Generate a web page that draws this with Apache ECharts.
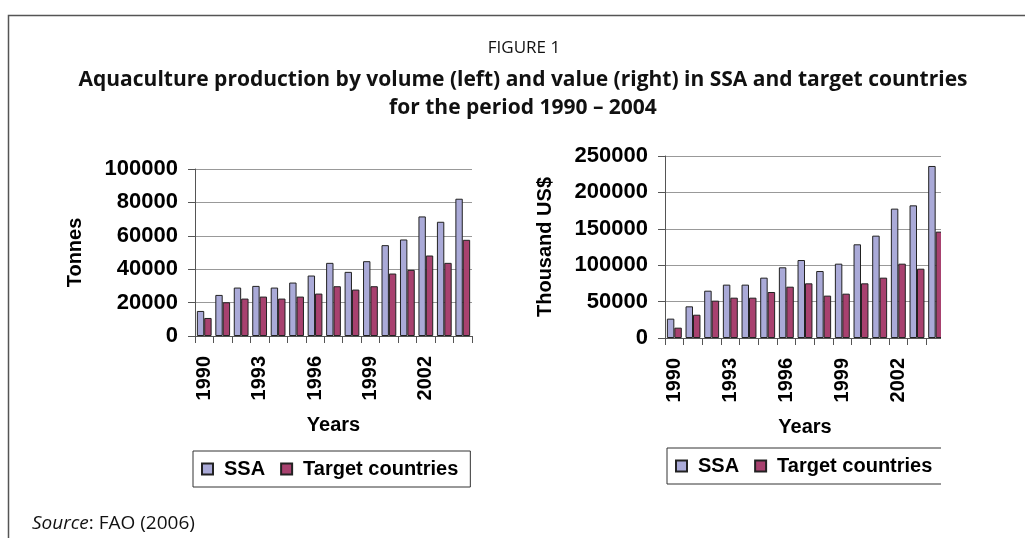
<!DOCTYPE html>
<html>
<head>
<meta charset="utf-8">
<title>Aquaculture production SSA</title>
<script src="https://cdn.jsdelivr.net/npm/echarts@6/dist/echarts.min.js"></script>
<style>
  html, body { margin: 0; padding: 0; background: #fff; }
  #chart { width: 1025px; height: 538px; }
</style>
</head>
<body>
<div id="chart"></div>
<script>
// years on the category axis
const years = ["1990", "1991", "1992", "1993", "1994", "1995", "1996", "1997",
  "1998", "1999", "2000", "2001", "2002", "2003", "2004"];

// volume, tonnes (left panel)
const volumeSSA = [15000, 24600, 29000, 30000, 29000, 32000, 36200, 43800,
  38400, 44800, 54400, 57800, 71600, 68400, 82200];
const volumeTarget = [10800, 20200, 22400, 23600, 22400, 23600, 25400, 29800,
  27800, 29800, 37400, 39600, 48200, 43800, 57600];

// value, thousand US$ (right panel)
const valueSSA = [26600, 43500, 65000, 73300, 73300, 82900, 97100, 107100,
  92000, 102100, 128700, 140600, 177700, 182200, 236300];
const valueTarget = [14200, 32000, 51300, 55400, 55400, 63200, 70500, 75100,
  58200, 60900, 75100, 82900, 102100, 95200, 146100];

const seriesNames = ["SSA", "Target countries"];

const FONT = "'Liberation Sans', Arial, sans-serif";
const TITLE_FONT = "'Open Sans', sans-serif";
const SSA_COLOR = "#aaaad8";
const TARGET_COLOR = "#a8416f";

function xAxisFor(gridIndex) {
  return {
    type: "category",
    gridIndex: gridIndex,
    data: years,
    name: "Years",
    nameLocation: "middle",
    nameGap: 79,
    nameTextStyle: { fontFamily: FONT, fontWeight: "bold", fontSize: 20, color: "#000" },
    axisLine: { lineStyle: { color: "#555", width: 1 } },
    axisTick: { show: true, interval: 0, length: 7, lineStyle: { color: "#555" } },
    axisLabel: {
      interval: 2,
      rotate: 90,
      margin: 20,
      fontFamily: FONT,
      fontWeight: "bold",
      fontSize: 20,
      color: "#000",
    },
  };
}

function yAxisFor(gridIndex, name, max, interval, nameGap) {
  return {
    type: "value",
    gridIndex: gridIndex,
    min: 0,
    max: max,
    interval: interval,
    name: name,
    nameLocation: "middle",
    nameGap: nameGap,
    nameTextStyle: { fontFamily: FONT, fontWeight: "bold", fontSize: 20, color: "#000" },
    axisLine: { show: true, lineStyle: { color: "#555", width: 1 } },
    axisTick: { show: true, length: 7, lineStyle: { color: "#555" } },
    splitLine: { lineStyle: { color: "#999", width: 1 } },
    axisLabel: {
      margin: 17,
      fontFamily: FONT,
      fontWeight: "bold",
      fontSize: 22,
      color: "#000",
      formatter: (value) => String(value),
    },
  };
}

function barSeries(name, color, data, axisIndex) {
  return {
    name: name,
    type: "bar",
    xAxisIndex: axisIndex,
    yAxisIndex: axisIndex,
    data: data,
    barGap: "0%",
    barCategoryGap: "20%",
    itemStyle: { color: color, borderColor: "#222", borderWidth: 1 },
    emphasis: { disabled: true },
  };
}

function legendAt(left, top) {
  return {
    data: seriesNames,
    left: left,
    top: top,
    orient: "horizontal",
    icon: "rect",
    itemWidth: 11,
    itemHeight: 11,
    itemGap: 15,
    padding: [8, 12, 8, 8],
    borderColor: "#333",
    borderWidth: 1,
    backgroundColor: "#fff",
    textStyle: {
      fontFamily: FONT,
      fontWeight: "bold",
      fontSize: 20,
      color: "#000",
      padding: [0, 0, 0, 6],
    },
  };
}

const chart = echarts.init(document.getElementById("chart"), null, { renderer: "canvas" });

chart.setOption({
  animation: false,
  grid: [
    { left: 195, top: 169, width: 277, height: 167 },
    { left: 665, top: 156, width: 280, height: 182 },
  ],
  xAxis: [xAxisFor(0), xAxisFor(1)],
  yAxis: [
    yAxisFor(0, "Tonnes", 100000, 20000, 110),
    yAxisFor(1, "Thousand US$", 250000, 50000, 110),
  ],
  legend: [legendAt(193, 451), legendAt(667, 448)],
  series: [
    barSeries("SSA", SSA_COLOR, volumeSSA, 0),
    barSeries("Target countries", TARGET_COLOR, volumeTarget, 0),
    barSeries("SSA", SSA_COLOR, valueSSA, 1),
    barSeries("Target countries", TARGET_COLOR, valueTarget, 1),
  ],
  graphic: [
    // the right panel is cut off at the page edge in the original
    {
      type: "rect",
      z: 100,
      shape: { x: 941, y: 135, width: 90, height: 360 },
      style: { fill: "#fff" },
    },
    // frame of the figure box
    {
      type: "polyline",
      z: 101,
      shape: { points: [[8.5, 538], [8.5, 15.5], [1025, 15.5]] },
      style: { stroke: "#555", lineWidth: 1.5, fill: null },
    },
    {
      type: "text",
      z: 101,
      x: 524,
      y: 48,
      style: {
        text: "FIGURE 1",
        fontFamily: TITLE_FONT,
        fontSize: 17,
        fill: "#111",
        textAlign: "center",
        textVerticalAlign: "middle",
      },
    },
    {
      type: "text",
      z: 101,
      x: 523,
      y: 80,
      style: {
        text: "Aquaculture production by volume (left) and value (right) in SSA and target countries",
        fontFamily: TITLE_FONT,
        fontWeight: "bold",
        fontSize: 21,
        fill: "#111",
        textAlign: "center",
        textVerticalAlign: "middle",
      },
    },
    {
      type: "text",
      z: 101,
      x: 523,
      y: 108,
      style: {
        text: "for the period 1990 \u2013 2004",
        fontFamily: TITLE_FONT,
        fontWeight: "bold",
        fontSize: 21,
        fill: "#111",
        textAlign: "center",
        textVerticalAlign: "middle",
      },
    },
    {
      type: "text",
      z: 101,
      x: 32,
      y: 524,
      style: {
        text: "{i|Source}: FAO (2006)",
        fontFamily: TITLE_FONT,
        fontSize: 19,
        fill: "#111",
        textVerticalAlign: "middle",
        rich: {
          i: { fontFamily: TITLE_FONT, fontSize: 19, fontStyle: "italic", fill: "#111" },
        },
      },
    },
  ],
});
</script>
</body>
</html>
